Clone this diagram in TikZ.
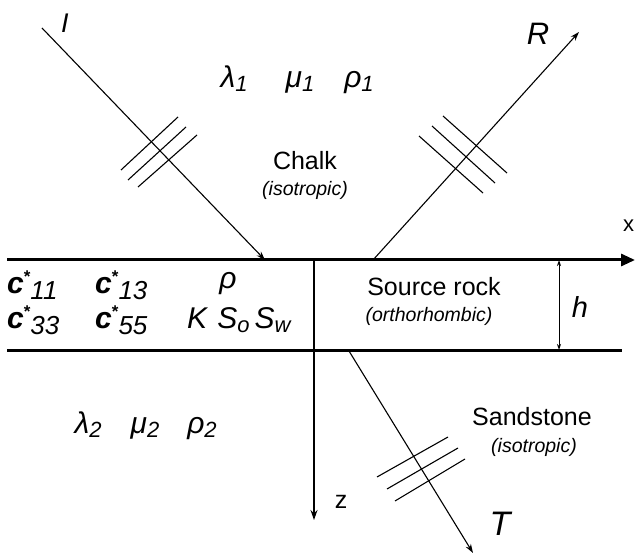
\documentclass[tikz,border=0pt]{standalone}
\usepackage{fontspec}
\setmainfont{Liberation Sans}
\usetikzlibrary{arrows.meta}
\newcommand\lsub[1]{\raisebox{-4pt}{\fontsize{22}{22}\selectfont\textit{#1}}}
\newcommand\csym[1]{\textbf{\textit{c}}\raisebox{11pt}{\fontsize{17}{17}\selectfont\textbf{*}}\raisebox{-6pt}{\fontsize{26}{26}\selectfont\textit{#1}}}
\begin{document}
\begin{tikzpicture}[x=1pt,y=-1pt,
  lbl/.style={inner sep=0pt,anchor=base,font=\fontsize{25}{25}\selectfont},
  big/.style={inner sep=0pt,anchor=base,font=\fontsize{30}{30}\selectfont},
  sub/.style={inner sep=0pt,anchor=base,font=\fontsize{19.5}{19.5}\selectfont\itshape},
  ray/.style={line width=1.1pt,-{Stealth[length=9pt,width=6pt]}},
  tick/.style={line width=1.1pt},
  layer/.style={line width=3pt}]
\useasboundingbox (0,0) rectangle (635,556);
% coordinates
\coordinate (L0) at (7,260);
\coordinate (L1) at (635,260);
\coordinate (B0) at (7,350);
\coordinate (B1) at (622,350);
\coordinate (Z0) at (314,260);
\coordinate (Z1) at (314,520);
\coordinate (H0) at (559,260);
\coordinate (H1) at (559,350);
\coordinate (Is) at (42,28);
\coordinate (Ie) at (265,260);
\coordinate (Rs) at (373,260);
\coordinate (Re) at (579,32);
\coordinate (Ts) at (349,351);
\coordinate (Te) at (473,553);
% layers and axes
\draw[layer,-{Triangle[length=14pt,width=12pt]}] (L0) -- (L1);
\draw[layer] (B0) -- (B1);
\draw[line width=1.4pt,-{Stealth[length=10pt,width=7pt]}] (Z0) -- (Z1);
\draw[line width=1pt,{Stealth[length=6pt,width=4pt]}-{Stealth[length=6pt,width=4pt]}] (H0) -- (H1);
% rays
\draw[ray] (Is) -- (Ie);
\draw[ray] (Rs) -- (Re);
\draw[ray] (Ts) -- (Te);
% wavefront ticks
\draw[tick] (121,170) -- (178,117);
\draw[tick] (128,180) -- (186,127);
\draw[tick] (138,187) -- (197,135);
\draw[tick] (419,136) -- (483,193);
\draw[tick] (432,126) -- (495,183);
\draw[tick] (443,116) -- (507,173);
\draw[tick] (377,477) -- (448,437);
\draw[tick] (387,489) -- (458,448);
\draw[tick] (395,501) -- (465,459);
% ray labels
\node[lbl,font=\fontsize{27}{27}\selectfont\itshape] (lI) at (65,33) {I};
\node[lbl,font=\fontsize{31}{31}\selectfont\itshape] (lR) at (538,45) {R};
\node[lbl,font=\fontsize{34}{34}\selectfont\itshape] (lT) at (500,535) {T};
\node[lbl,anchor=base west,font=\fontsize{22}{22}\selectfont] (lx) at (623,232) {x};
\node[lbl] (lz) at (341,508) {z};
\node[lbl,font=\fontsize{29}{29}\selectfont\itshape] (lh) at (580,318) {h};
% chalk
\node[big] (l1) at (234,88) {\textit{λ}\lsub{1}};
\node[big] (m1) at (300,88) {\textit{μ}\lsub{1}};
\node[big] (r1) at (359,88) {\textit{ρ}\lsub{1}};
\node[lbl] (chalk) at (305,170) {Chalk};
\node[sub] (chiso) at (305,196) {(isotropic)};
% source rock
\node[lbl] (src) at (434,295) {Source rock};
\node[sub] (srco) at (429,322) {(orthorhombic)};
\node[big,anchor=base west] (c11) at (7,294) {\csym{11}};
\node[big,anchor=base west] (c13) at (95,294) {\csym{13}};
\node[big] (rho) at (228,289) {\textit{ρ}};
\node[big,anchor=base west] (c33) at (7,328) {\csym{33}};
\node[big,anchor=base west] (c55) at (95,328) {\csym{55}};
\node[big,anchor=base west] (kss) at (187,328) {\textit{K}\hspace{9pt}\textit{S}\lsub{o}\hspace{5pt}\textit{S}\lsub{w}};
% sandstone
\node[big] (l2) at (88,433) {\textit{λ}\lsub{2}};
\node[big] (m2) at (145,433) {\textit{μ}\lsub{2}};
\node[big] (r2) at (202,433) {\textit{ρ}\lsub{2}};
\node[lbl] (sand) at (532,425) {Sandstone};
\node[sub] (sdiso) at (534,452) {(isotropic)};
\end{tikzpicture}
\end{document}
